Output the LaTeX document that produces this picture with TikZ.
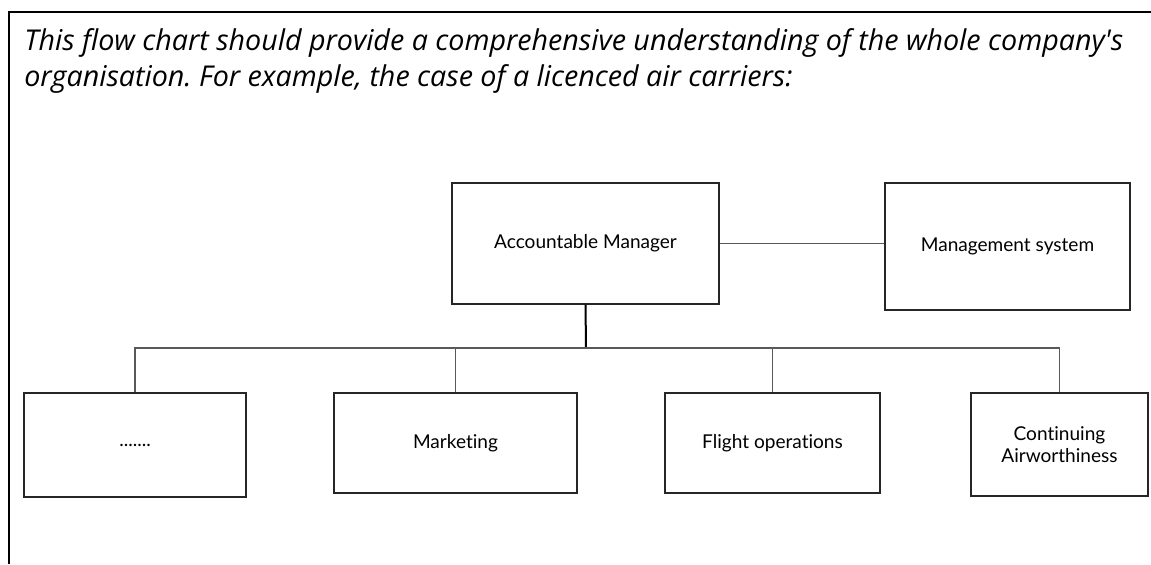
\documentclass[tikz,border=0pt]{standalone}
\usepackage{fontspec}
\setmainfont{Lato}[Ligatures=NoCommon]
\newfontfamily\notefont{Open Sans}
\frenchspacing
\begin{document}
\begin{tikzpicture}[x=0.75pt,y=-0.75pt,
  box/.style={draw=black!85,line width=0.8pt,rectangle,inner sep=0pt,font=\fontsize{14.3}{17}\selectfont,align=center},
  conn/.style={draw=black!65,line width=0.9pt},
  stem/.style={draw=black,line width=1.5pt}]
\useasboundingbox (0,0) rectangle (1151,564);
\draw[line width=1.8pt] (9,564) -- (9,12) -- (1151,12);
\node[anchor=base west,align=left,font=\notefont\itshape\fontsize{21.5}{27}\selectfont,inner sep=0pt] (note) at (24,86)
  {This flow chart should provide a comprehensive understanding of the whole company's\\organisation. For example, the case of a licenced air carriers:};
\node[box,minimum width=0.75pt*267,minimum height=0.75pt*121] (am) at (585.5,243.5) {Accountable Manager};
\node[box,minimum width=0.75pt*245,minimum height=0.75pt*127] (ms) at (1007.5,246.5) {Management system};
\node[box,minimum width=0.75pt*222,minimum height=0.75pt*104] (b1) at (135,445) {.......};
\node[box,minimum width=0.75pt*243,minimum height=0.75pt*100] (b2) at (455.5,443) {Marketing};
\node[box,minimum width=0.75pt*215,minimum height=0.75pt*100] (b3) at (772.5,443) {Flight operations};
\node[box,minimum width=0.75pt*177,minimum height=0.75pt*103] (b4) at (1059.5,444.5) {Continuing\\Airworthiness};
\coordinate (bus) at (586,348);
\draw[conn] (am.east) -- (ms.west |- am.east);
\draw[stem] (am.south) -- (bus);
\draw[conn] (b1.north) |- (bus) -| (b4.north);
\draw[conn] (b2.north) -- (b2.north |- bus);
\draw[conn] (b3.north) -- (b3.north |- bus);
\end{tikzpicture}
\end{document}
